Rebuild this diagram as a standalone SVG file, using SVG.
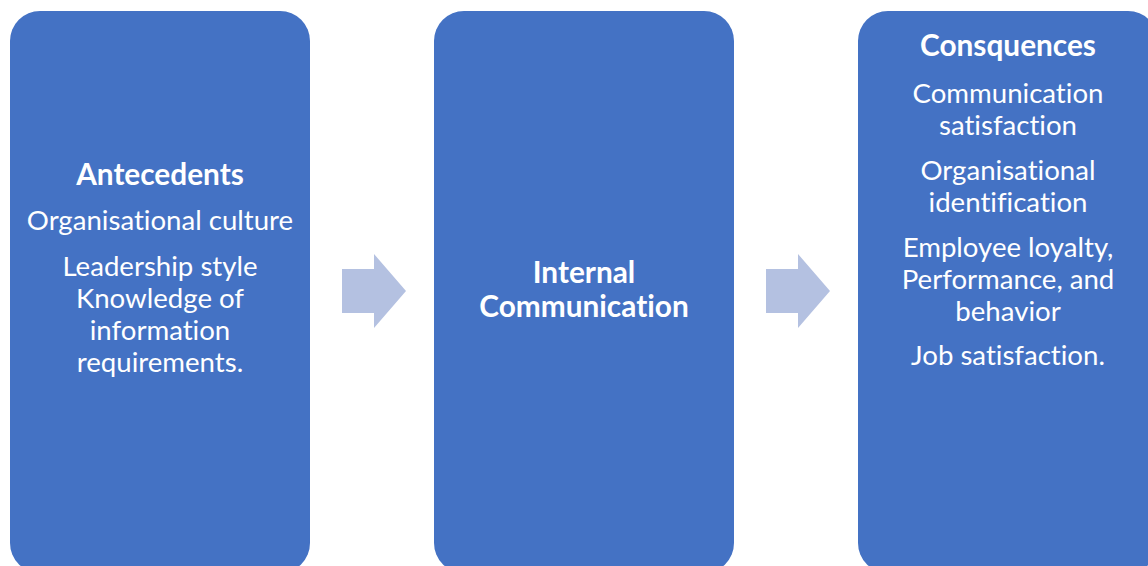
<svg xmlns="http://www.w3.org/2000/svg" width="1148" height="566" viewBox="0 0 1148 566">
  <style>
    .box { fill: #4472C4; }
    .arrow { fill: #B4C1E1; }
    text { fill: #FFFFFF; font-family: Lato, "Open Sans", "Liberation Sans", sans-serif; font-size: 27.6px; text-anchor: middle; font-variant-ligatures: none; }
    .title { font-weight: bold; font-size: 29.8px; }
  </style>
  <rect width="1148" height="566" fill="#FFFFFF"/>

  <g id="antecedents">
    <rect class="box" x="10" y="11" width="300" height="562" rx="30" ry="30"/>
    <text class="title" x="160" y="185">Antecedents</text>
    <text x="160" y="230">Organisational culture</text>
    <text x="160" y="276">Leadership style</text>
    <text x="160" y="308">Knowledge of</text>
    <text x="160" y="340">information</text>
    <text x="160" y="372">requirements.</text>
  </g>

  <g id="internal-communication">
    <rect class="box" x="434" y="11" width="300" height="562" rx="30" ry="30"/>
    <text class="title" x="584" y="283">Internal</text>
    <text class="title" x="584" y="317">Communication</text>
  </g>

  <g id="consequences">
    <rect class="box" x="858" y="11" width="300" height="562" rx="30" ry="30"/>
    <text class="title" x="1008" y="56">Consquences</text>
    <text x="1008" y="103">Communication</text>
    <text x="1008" y="135">satisfaction</text>
    <text x="1008" y="180">Organisational</text>
    <text x="1008" y="212">identification</text>
    <text x="1008" y="257">Employee loyalty,</text>
    <text x="1008" y="289">Performance, and</text>
    <text x="1008" y="321">behavior</text>
    <text x="1008" y="365">Job satisfaction.</text>
  </g>

  <g id="connectors">
    <polygon class="arrow" points="342,269 374,269 374,254 406,291 374,328 374,313 342,313"/>
    <polygon class="arrow" points="766,269 798,269 798,254 830,291 798,328 798,313 766,313"/>
  </g>
</svg>
